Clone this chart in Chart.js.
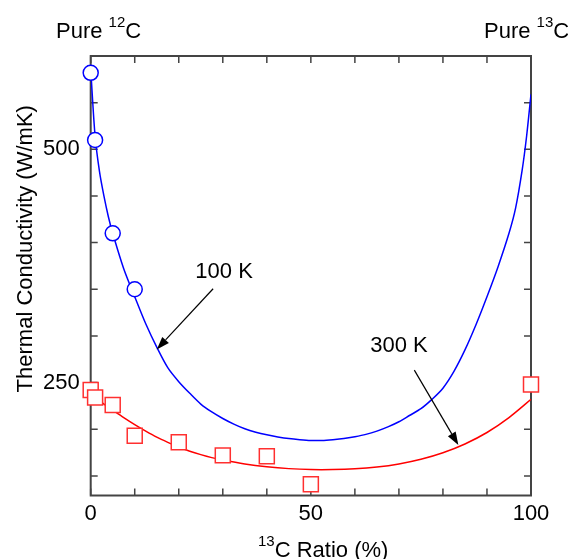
<!DOCTYPE html>
<html>
<head>
<meta charset="utf-8">
<script src="https://cdn.jsdelivr.net/npm/chart.js@4.4.0/dist/chart.umd.min.js"></script>
<style>
  html, body { margin: 0; padding: 0; background: #fff; }
  canvas { display: block; }
</style>
</head>
<body>
<canvas id="chart" width="568" height="559"></canvas>
<script>
// ── Data (13C ratio in %, thermal conductivity in W/mK) ─────────────────────

const ratio100K = [0, 1, 5, 10];
const kappa100K = [582, 510, 410, 350];

const ratio300K = [0, 1, 5, 10, 20, 30, 40, 50, 100];
const kappa300K = [242, 234, 226, 193, 186, 172, 171, 141, 248];

// model curves
const fitRatio100K = [0, 1, 2, 3, 4, 5, 7.5, 10, 12.5, 15, 17.5, 20, 22.5, 25, 27.5, 30, 32.5, 35, 37.5, 40, 42.5, 45, 47.5, 50,
  52.5, 55, 57.5, 60, 62.5, 65, 67.5, 70, 72.5, 75, 77.5, 80, 82.5, 85, 87.5, 90, 92.5, 95, 96.5, 98, 99, 100];
const fitKappa100K = [586, 514, 476, 450, 428, 410, 372, 342, 313, 288, 266, 251, 238.5, 227, 218.5, 211.5, 205.5, 200.5, 196.8, 194, 191.8, 190, 188.8, 188,
  188, 188.8, 190, 192, 194.5, 198, 202.5, 208, 215, 222, 232, 244, 262, 285, 312, 342, 374, 410, 437, 478, 514, 559];

const fitRatio300K = [0, 1, 2, 3, 5, 7.5, 10, 12.5, 15, 17.5, 20, 22.5, 25, 27.5, 30, 35, 40, 45, 50, 55, 60, 65, 70, 75, 80, 85, 90, 95, 100];
const fitKappa300K = [243, 236, 231, 227, 220.5, 212.5, 205, 198, 191.5, 186, 181, 176.5, 172.8, 169.6, 167, 162.8, 159.8, 157.8, 156.8, 156.8, 157.6,
  159.5, 162.8, 167.8, 174.8, 184.2, 196.5, 212.5, 232];

const xTicks = [0, 10, 20, 30, 40, 50, 60, 70, 80, 90, 100];
const xLabels = [0, 50, 100];
const yTicks = [150, 200, 250, 300, 350, 400, 450, 500, 550, 600];
const yLabels = [250, 500];

// ── Annotations (data coordinates) ──────────────────────────────────────────

const NOTES = [
  { text: '100 K', x: 30.3, y: 362.5, from: [27.8, 350.6], to: [15, 285.5] },
  { text: '300 K', x: 70,   y: 282.5, from: [73.5, 263.4], to: [83.5, 183] },
];

const FONT = "'Liberation Sans', Arial, Helvetica, sans-serif";

function toPoints(xs, ys) {
  return xs.map((x, i) => ({ x, y: ys[i] }));
}

// text with superscript runs: [{ t, size, rise }]
function drawRuns(ctx, runs, x, baseline) {
  let cx = x;
  runs.forEach(r => {
    ctx.font = `${r.size}px ${FONT}`;
    ctx.fillText(r.t, cx, baseline - (r.rise || 0));
    cx += ctx.measureText(r.t).width;
  });
}

function drawArrow(ctx, x0, y0, x1, y1) {
  const ang = Math.atan2(y1 - y0, x1 - x0);
  const len = 13, half = 4.5;
  const bx = x1 - len * Math.cos(ang), by = y1 - len * Math.sin(ang);
  ctx.beginPath();
  ctx.moveTo(x0, y0);
  ctx.lineTo(bx, by);
  ctx.stroke();
  ctx.beginPath();
  ctx.moveTo(x1, y1);
  ctx.lineTo(bx + half * Math.sin(ang), by - half * Math.cos(ang));
  ctx.lineTo(bx - half * Math.sin(ang), by + half * Math.cos(ang));
  ctx.closePath();
  ctx.fill();
}

// ── Frame with inward ticks ─────────────────────────────────────────────────

const framePlugin = {
  id: 'frame',
  beforeDatasetsDraw(chart) {
    const { ctx, chartArea: a, scales: { x, y } } = chart;
    ctx.save();
    ctx.strokeStyle = '#444';
    ctx.lineWidth = 1.5;
    ctx.beginPath();
    xTicks.forEach(v => {
      const px = x.getPixelForValue(v);
      ctx.moveTo(px, a.bottom); ctx.lineTo(px, a.bottom - 7);
      ctx.moveTo(px, a.top); ctx.lineTo(px, a.top + 7);
    });
    yTicks.forEach(v => {
      const py = y.getPixelForValue(v);
      ctx.moveTo(a.left, py); ctx.lineTo(a.left + 7, py);
      ctx.moveTo(a.right, py); ctx.lineTo(a.right - 7, py);
    });
    ctx.stroke();
    ctx.lineWidth = 2;
    ctx.strokeRect(a.left, a.top, a.right - a.left, a.bottom - a.top);
    ctx.restore();
  },
};

// ── Titles and annotations ──────────────────────────────────────────────────

const textPlugin = {
  id: 'texts',
  afterDraw(chart) {
    const { ctx, chartArea: a, scales: { x, y } } = chart;
    ctx.save();
    ctx.fillStyle = '#000';
    ctx.textAlign = 'left';
    ctx.textBaseline = 'alphabetic';

    drawRuns(ctx, [{ t: 'Pure ', size: 22 }, { t: '12', size: 15, rise: 11 }, { t: 'C', size: 22 }], 56, 38);
    drawRuns(ctx, [{ t: 'Pure ', size: 22 }, { t: '13', size: 15, rise: 11 }, { t: 'C', size: 22 }], 484, 38);

    // x axis title
    drawRuns(ctx, [{ t: '13', size: 15, rise: 11 }, { t: 'C Ratio (%)', size: 22 }], 258, 557);

    // y axis title
    ctx.save();
    ctx.translate(32, (a.top + a.bottom) / 2 - 27);
    ctx.rotate(-Math.PI / 2);
    ctx.font = `22px ${FONT}`;
    ctx.textAlign = 'center';
    ctx.fillText('Thermal Conductivity (W/mK)', 0, 0);
    ctx.restore();

    // annotations with arrows
    ctx.font = `22px ${FONT}`;
    ctx.textAlign = 'center';
    ctx.strokeStyle = '#000';
    ctx.lineWidth = 1.2;
    NOTES.forEach(n => {
      ctx.fillText(n.text, x.getPixelForValue(n.x), y.getPixelForValue(n.y));
      drawArrow(ctx,
        x.getPixelForValue(n.from[0]), y.getPixelForValue(n.from[1]),
        x.getPixelForValue(n.to[0]), y.getPixelForValue(n.to[1]));
    });
    ctx.restore();
  },
};

new Chart(document.getElementById('chart'), {
  type: 'scatter',
  data: {
    datasets: [
      {
        label: '100 K data',
        data: toPoints(ratio100K, kappa100K),
        pointStyle: 'circle',
        pointRadius: 7.5,
        borderColor: '#0000ff',
        backgroundColor: '#fff',
        borderWidth: 1.5,
        clip: false,
        order: 0,
      },
      {
        label: '300 K data',
        data: toPoints(ratio300K, kappa300K),
        pointStyle: 'rect',
        pointRadius: 10.6,
        borderColor: '#ff3030',
        backgroundColor: '#fff',
        borderWidth: 1.5,
        clip: false,
        order: 0,
      },
      {
        label: '100 K fit',
        data: toPoints(fitRatio100K, fitKappa100K),
        showLine: true,
        pointRadius: 0,
        borderColor: '#0000ff',
        borderWidth: 1.5,
        tension: 0.3,
        order: 1,
      },
      {
        label: '300 K fit',
        data: toPoints(fitRatio300K, fitKappa300K),
        showLine: true,
        pointRadius: 0,
        borderColor: '#ff0000',
        borderWidth: 1.5,
        tension: 0.3,
        order: 1,
      },
    ],
  },
  options: {
    responsive: false,
    animation: false,
    events: [],
    layout: { padding: { left: 0, right: 37, top: 56, bottom: 0 } },
    plugins: {
      legend: { display: false },
      tooltip: { enabled: false },
    },
    scales: {
      x: {
        type: 'linear',
        min: 0,
        max: 100,
        grid: { display: false },
        border: { display: false },
        afterBuildTicks: s => { s.ticks = xTicks.map(v => ({ value: v })); },
        afterFit: s => { s.height = 63.5; },
        ticks: {
          color: '#000',
          font: { family: FONT, size: 22 },
          padding: -3,
          maxRotation: 0,
          autoSkip: false,
          callback: v => (xLabels.includes(v) ? String(v) : ''),
        },
      },
      y: {
        type: 'linear',
        min: 129,
        max: 600,
        grid: { display: false },
        border: { display: false },
        afterBuildTicks: s => { s.ticks = yTicks.map(v => ({ value: v })); },
        afterFit: s => { s.width = 90.7; },
        ticks: {
          color: '#000',
          font: { family: FONT, size: 22 },
          padding: 3,
          autoSkip: false,
          callback: v => (yLabels.includes(v) ? String(v) : ''),
        },
      },
    },
  },
  plugins: [framePlugin, textPlugin],
});
</script>
</body>
</html>
